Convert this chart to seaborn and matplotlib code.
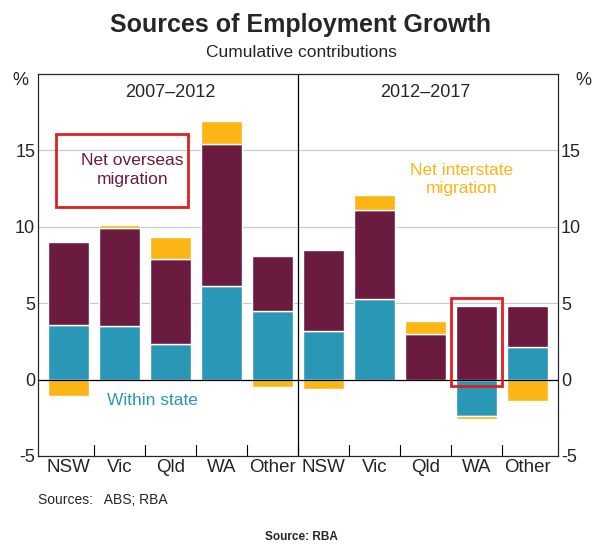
import matplotlib
matplotlib.use("Agg")
import numpy as np
import matplotlib.pyplot as plt
import seaborn as sns
from matplotlib.patches import Rectangle

sns.set_style("white")
plt.rcParams['font.family'] = ['Liberation Sans', 'DejaVu Sans']

# ── Data ──────────────────────────────────────────────────────────────────────
states = ["NSW", "Vic", "Qld", "WA", "Other"]
within_0712 = [3.6, 3.5, 2.3, 6.1, 4.5]
overseas_0712 = [5.4, 6.4, 5.6, 9.3, 3.6]
interstate_0712 = [-1.1, 0.2, 1.4, 1.5, -0.5]
within_1217 = [3.2, 5.3, -0.1, -2.4, 2.1]
overseas_1217 = [5.3, 5.8, 3.0, 4.8, 2.7]
interstate_1217 = [-0.6, 1.0, 0.8, -0.2, -1.4]

labels = states + states
within = within_0712 + within_1217
overseas = overseas_0712 + overseas_1217
interstate = interstate_0712 + interstate_1217

C_WITHIN = "#2b97b7"
C_OVER = "#6b1a40"
C_INTER = "#fbb515"

fig = plt.figure(figsize=(6.02, 5.48), dpi=100)
ax = fig.add_axes([0.063, 0.168, 0.864, 0.697])

x = np.arange(len(labels))
pos_base = np.zeros(len(x))
neg_base = np.zeros(len(x))
for vals, col in [(within, C_WITHIN), (overseas, C_OVER), (interstate, C_INTER)]:
    v = np.array(vals)
    bottom = np.where(v >= 0, pos_base, neg_base)
    ax.bar(x, v, bottom=bottom, width=0.82, color=col, zorder=3)
    pos_base = pos_base + np.where(v >= 0, v, 0)
    neg_base = neg_base + np.where(v < 0, v, 0)

ax.set_xlim(-0.6, 9.6)
ax.set_ylim(-5, 20)
ax.set_xticks(x)
ax.set_xticklabels(labels, fontsize=13.5)
ax.set_yticks([-5, 0, 5, 10, 15])
ax.set_yticklabels(["-5", "0", "5", "10", "15"], fontsize=13)
ax.tick_params(axis="y", length=0, pad=2)
ax.tick_params(axis="x", length=0, pad=2)
for xm in np.arange(0.5, 9.5, 1.0):
    ax.plot([xm, xm], [-5, -4.3], color="black", lw=0.8, zorder=4)
for yv in [5, 10, 15]:
    ax.axhline(yv, color="#c8c8c8", lw=0.8, zorder=1)
ax.axhline(0, color="black", lw=0.9, zorder=4)
ax.axvline(4.5, color="black", lw=0.9, zorder=4)
for s in ax.spines.values():
    s.set_color("black")
    s.set_linewidth(0.8)

ax2 = ax.twinx()
ax2.set_ylim(ax.get_ylim())
ax2.set_yticks([-5, 0, 5, 10, 15])
ax2.set_yticklabels(["-5", "0", "5", "10", "15"], fontsize=13)
ax2.tick_params(axis="y", length=0, pad=2)
fig.text(0.02, 0.845, "%", fontsize=13)
fig.text(0.955, 0.845, "%", fontsize=13)

ax.text(2.0, 18.8, "2007–2012", ha="center", va="center", fontsize=13)
ax.text(7.0, 18.8, "2012–2017", ha="center", va="center", fontsize=13)
ax.text(1.25, 13.7, "Net overseas\nmigration", ha="center", va="center",
        fontsize=12.5, color=C_OVER, linespacing=1.3)
ax.add_patch(Rectangle((-0.25, 11.3), 2.6, 4.8, fill=False, ec="#e02020", lw=2, zorder=6))
ax.text(7.7, 13.1, "Net interstate\nmigration", ha="center", va="center",
        fontsize=12.5, color=C_INTER, linespacing=1.3)
ax.text(1.65, -1.4, "Within state", ha="center", va="center", fontsize=12.5, color=C_WITHIN)
ax.add_patch(Rectangle((7.5, -0.45), 1.0, 5.8, fill=False, ec="#e02020", lw=2, zorder=6))

fig.text(0.5, 0.955, "Sources of Employment Growth", ha="center", va="center",
         fontsize=18, fontweight="bold")
fig.text(0.5, 0.905, "Cumulative contributions", ha="center", va="center", fontsize=12.5)
fig.text(0.063, 0.08, "Sources:   ABS; RBA", fontsize=10)
fig.text(0.5, 0.015, "Source: RBA", ha="center", fontsize=8.5, fontweight="bold")

fig.savefig("out.png", dpi=100)
